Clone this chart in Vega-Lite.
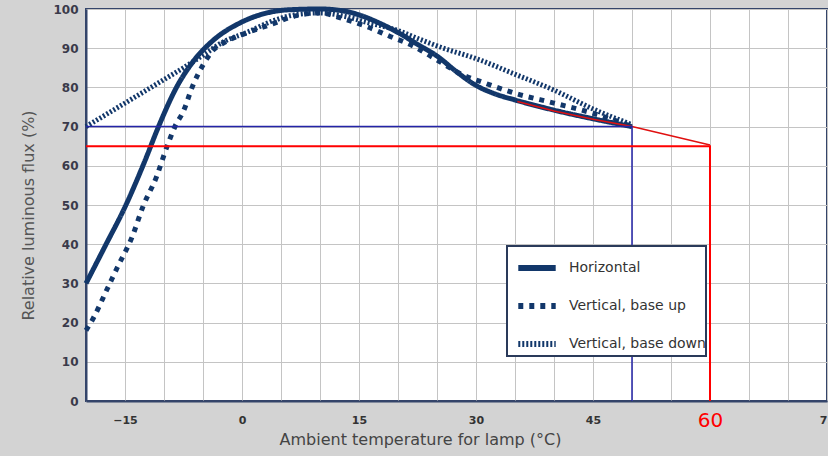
{
  "$schema": "https://vega.github.io/schema/vega-lite/v6.json",
  "width": 741,
  "height": 392,
  "autosize": {"type": "none"},
  "padding": {"left": 86, "top": 9, "right": 1, "bottom": 55},
  "background": "#d3d3d3",
  "config": {
    "view": {"fill": "white", "stroke": "#34456a", "strokeWidth": 2},
    "font": "DejaVu Sans",
    "axis": {"gridColor": "#c4c4c4", "gridWidth": 1, "gridOpacity": 1, "ticks": false, "tickSize": 0, "domainColor": "#34456a", "domainWidth": 2}
  },
  "datasets": {
    "curves": [
      {"series": "Horizontal", "t": -20, "flux": 30},
      {"series": "Horizontal", "t": -17.5, "flux": 39.7},
      {"series": "Horizontal", "t": -15, "flux": 49.5},
      {"series": "Horizontal", "t": -12.5, "flux": 61},
      {"series": "Horizontal", "t": -10.7, "flux": 70},
      {"series": "Horizontal", "t": -8.4, "flux": 80},
      {"series": "Horizontal", "t": -6.3, "flux": 86.5},
      {"series": "Horizontal", "t": -3.7, "flux": 92},
      {"series": "Horizontal", "t": -0.3, "flux": 96.4},
      {"series": "Horizontal", "t": 3.2, "flux": 99},
      {"series": "Horizontal", "t": 6, "flux": 99.8},
      {"series": "Horizontal", "t": 10, "flux": 100},
      {"series": "Horizontal", "t": 13, "flux": 99.5},
      {"series": "Horizontal", "t": 15, "flux": 98.5},
      {"series": "Horizontal", "t": 17.5, "flux": 96.5},
      {"series": "Horizontal", "t": 20, "flux": 94},
      {"series": "Horizontal", "t": 22.5, "flux": 91},
      {"series": "Horizontal", "t": 25, "flux": 88},
      {"series": "Horizontal", "t": 27.5, "flux": 84},
      {"series": "Horizontal", "t": 30, "flux": 80.5},
      {"series": "Horizontal", "t": 32.5, "flux": 78.3},
      {"series": "Horizontal", "t": 35, "flux": 76.8},
      {"series": "Horizontal", "t": 40, "flux": 74.2},
      {"series": "Horizontal", "t": 45, "flux": 72},
      {"series": "Horizontal", "t": 50, "flux": 70},
      {"series": "Vertical, base up", "t": -20, "flux": 18},
      {"series": "Vertical, base up", "t": -19.1, "flux": 21},
      {"series": "Vertical, base up", "t": -17.3, "flux": 28.5},
      {"series": "Vertical, base up", "t": -16, "flux": 34},
      {"series": "Vertical, base up", "t": -14, "flux": 42.3},
      {"series": "Vertical, base up", "t": -12.7, "flux": 49.6},
      {"series": "Vertical, base up", "t": -11, "flux": 57},
      {"series": "Vertical, base up", "t": -9.6, "flux": 65},
      {"series": "Vertical, base up", "t": -8.6, "flux": 70},
      {"series": "Vertical, base up", "t": -7.5, "flux": 74},
      {"series": "Vertical, base up", "t": -6.3, "flux": 80.5},
      {"series": "Vertical, base up", "t": -5, "flux": 85.7},
      {"series": "Vertical, base up", "t": -3.7, "flux": 89.5},
      {"series": "Vertical, base up", "t": -2.4, "flux": 91.3},
      {"series": "Vertical, base up", "t": 0.6, "flux": 93.9},
      {"series": "Vertical, base up", "t": 3.6, "flux": 96},
      {"series": "Vertical, base up", "t": 7, "flux": 98.3},
      {"series": "Vertical, base up", "t": 10, "flux": 99},
      {"series": "Vertical, base up", "t": 13, "flux": 97.5},
      {"series": "Vertical, base up", "t": 16, "flux": 95.5},
      {"series": "Vertical, base up", "t": 19, "flux": 93},
      {"series": "Vertical, base up", "t": 22, "flux": 90.5},
      {"series": "Vertical, base up", "t": 25, "flux": 87},
      {"series": "Vertical, base up", "t": 28, "flux": 83.5},
      {"series": "Vertical, base up", "t": 31, "flux": 81.2},
      {"series": "Vertical, base up", "t": 35, "flux": 78.5},
      {"series": "Vertical, base up", "t": 40, "flux": 76},
      {"series": "Vertical, base up", "t": 45, "flux": 73.4},
      {"series": "Vertical, base up", "t": 50, "flux": 70},
      {"series": "Vertical, base down", "t": -20, "flux": 70},
      {"series": "Vertical, base down", "t": -17.5, "flux": 73},
      {"series": "Vertical, base down", "t": -15, "flux": 76},
      {"series": "Vertical, base down", "t": -12.5, "flux": 79},
      {"series": "Vertical, base down", "t": -10, "flux": 82},
      {"series": "Vertical, base down", "t": -7.5, "flux": 85},
      {"series": "Vertical, base down", "t": -5, "flux": 88.2},
      {"series": "Vertical, base down", "t": -2.5, "flux": 91.5},
      {"series": "Vertical, base down", "t": 0.6, "flux": 94},
      {"series": "Vertical, base down", "t": 4, "flux": 97},
      {"series": "Vertical, base down", "t": 7, "flux": 98.6},
      {"series": "Vertical, base down", "t": 10, "flux": 99},
      {"series": "Vertical, base down", "t": 13, "flux": 98.2},
      {"series": "Vertical, base down", "t": 16, "flux": 96.6},
      {"series": "Vertical, base down", "t": 20, "flux": 94.5},
      {"series": "Vertical, base down", "t": 22.5, "flux": 92.5},
      {"series": "Vertical, base down", "t": 25.4, "flux": 90.3},
      {"series": "Vertical, base down", "t": 30.5, "flux": 87},
      {"series": "Vertical, base down", "t": 34.7, "flux": 83.6},
      {"series": "Vertical, base down", "t": 40, "flux": 79.3},
      {"series": "Vertical, base down", "t": 45, "flux": 74.5},
      {"series": "Vertical, base down", "t": 50, "flux": 70.5}
    ],
    "redslope": [
      {"i": 1, "t": 35.3, "flux": 76.4},
      {"i": 2, "t": 40, "flux": 74},
      {"i": 3, "t": 45, "flux": 71.9},
      {"i": 4, "t": 50, "flux": 70},
      {"i": 5, "t": 60, "flux": 65.3}
    ],
    "blue": [
      {"i": 1, "t": -20, "flux": 70},
      {"i": 2, "t": 50, "flux": 70},
      {"i": 3, "t": 50, "flux": 0}
    ],
    "red": [
      {"i": 1, "t": -20, "flux": 65},
      {"i": 2, "t": 60, "flux": 65},
      {"i": 3, "t": 60, "flux": 0}
    ]
  },
  "encoding": {
    "x": {
      "field": "t", "type": "quantitative",
      "scale": {"domain": [-20, 75], "nice": false, "zero": false},
      "axis": {
        "values": [-20, -15, -10, -5, 0, 5, 10, 15, 20, 25, 30, 35, 40, 45, 50, 55, 60, 65, 70, 75],
        "labelExpr": "datum.value % 15 == 0 ? format(datum.value, 'd') : ''",
        "labelFontSize": {"condition": {"test": "datum.value == 60", "value": 20}, "value": 11},
        "labelColor": {"condition": {"test": "datum.value == 60", "value": "#ff0000"}, "value": "#333333"},
        "labelFontWeight": {"condition": {"test": "datum.value == 60", "value": "normal"}, "value": "bold"},
        "labelBaseline": "middle",
        "labelPadding": 19,
        "labelFlush": false,
        "labelOverlap": false,
        "title": "Ambient temperature for lamp (°C)",
        "titleFontSize": 16,
        "titleFontWeight": "normal",
        "titleColor": "#444444",
        "titleX": 334,
        "titleY": 30,
        "titleAlign": "center",
        "titleBaseline": "top"
      }
    },
    "y": {
      "field": "flux", "type": "quantitative",
      "scale": {"domain": [0, 100], "nice": false},
      "axis": {
        "values": [0, 10, 20, 30, 40, 50, 60, 70, 80, 90, 100],
        "labelFontSize": 12,
        "labelFontWeight": "bold",
        "labelColor": "#3a3a4a",
        "labelPadding": 8,
        "title": "Relative luminous flux (%)",
        "titleFontSize": 16,
        "titleFontWeight": "normal",
        "titleColor": "#555555",
        "titlePadding": 16,
        "titleY": 206
      }
    }
  },
  "layer": [
    {
      "data": {"name": "curves"},
      "mark": {"type": "line", "interpolate": "monotone", "strokeWidth": 5, "color": "#12376a", "strokeCap": "butt"},
      "encoding": {
        "strokeDash": {
          "field": "series", "type": "nominal",
          "scale": {"domain": ["Horizontal", "Vertical, base up", "Vertical, base down"], "range": [[1, 0], [5, 6], [2, 2]]},
          "legend": {
            "title": null,
            "orient": "none",
            "legendX": 421,
            "legendY": 237,
            "direction": "vertical",
            "fillColor": "white",
            "strokeColor": "#2a3a5a",
            "padding": 0,
            "symbolOffset": 8,
            "symbolType": "stroke",
            "symbolSize": 1400,
            "symbolStrokeWidth": 6,
            "symbolStrokeColor": "#12376a",
            "labelFont": "DejaVu Sans",
            "labelFontSize": 14,
            "labelColor": "#333333",
            "labelOffset": 10,
            "labelLimit": 400,
            "rowPadding": 4,
            "encode": {"legend": {"update": {"strokeWidth": {"value": 2}}}}
          }
        }
      }
    },
    {
      "data": {"name": "redslope"},
      "mark": {"type": "line", "color": "#e01010", "strokeWidth": 1.5},
      "encoding": {"order": {"field": "i", "type": "quantitative"}}
    },
    {
      "data": {"name": "blue"},
      "mark": {"type": "line", "color": "#2424a8", "strokeWidth": 1.5},
      "encoding": {"order": {"field": "i", "type": "quantitative"}}
    },
    {
      "data": {"name": "red"},
      "mark": {"type": "line", "color": "#ff0000", "strokeWidth": 2},
      "encoding": {"order": {"field": "i", "type": "quantitative"}}
    }
  ]
}
